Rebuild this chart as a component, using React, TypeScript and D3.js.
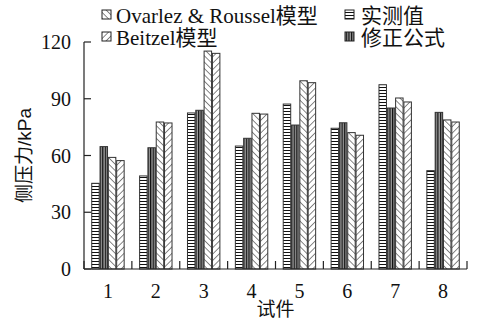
import * as d3 from "d3";

const categories = ["1", "2", "3", "4", "5", "6", "7", "8"];
const measured = [45.3, 49.2, 82.5, 65.0, 87.2, 74.4, 97.4, 52.0];
const corrected = [64.7, 64.1, 83.9, 69.1, 76.1, 77.3, 85.1, 82.8];
const ovarlez = [59.0, 77.7, 115.2, 82.3, 99.5, 72.1, 90.4, 78.8];
const beitzel = [57.3, 77.2, 114.0, 81.9, 98.5, 70.7, 88.3, 77.7];
const yTicks = [0, 30, 60, 90, 120];

const seriesNames = ["实测值", "修正公式", "Ovarlez & Roussel模型", "Beitzel模型"];
const seriesPatterns = ["p-hor", "p-ver", "p-back", "p-fwd"];
const seriesValues = [measured, corrected, ovarlez, beitzel];

const W = 477;
const H = 324;
const margin = { left: 84, right: 10, top: 42, bottom: 55 };
const FONT = "'Liberation Serif', 'Times New Roman', 'Noto Sans CJK SC', serif";
const SANS = "'Liberation Sans', Arial, 'Noto Sans CJK SC', sans-serif";

export default function App() {
  const x = d3
    .scaleBand()
    .domain(categories)
    .range([margin.left, W - margin.right])
    .paddingInner(0)
    .paddingOuter(0);
  const x1 = d3
    .scaleBand()
    .domain(seriesNames)
    .range([0, x.bandwidth()])
    .paddingInner(0.1)
    .paddingOuter(0.93);
  const y = d3
    .scaleLinear()
    .domain([0, 120])
    .range([H - margin.bottom, margin.top]);

  const y0 = y(0);
  const boundaries = categories.map((c) => x(c)!).concat([W - margin.right]);

  // legend: [series index, swatch x, text x, row baseline]
  const legend = [
    { i: 2, sx: 102, tx: 116, by: 23 },
    { i: 3, sx: 102, tx: 116, by: 45 },
    { i: 0, sx: 345, tx: 361, by: 23 },
    { i: 1, sx: 345, tx: 361, by: 45 },
  ];

  return (
    <div style={{ position: "absolute", left: 0, top: 0 }}>
      <svg width={W} height={H} style={{ display: "block", background: "#fff" }}>
        <defs>
          <pattern id="p-hor" patternUnits="userSpaceOnUse" width="4" height="3">
            <rect width="4" height="3" fill="#fff" />
            <line x1="0" y1="0.5" x2="4" y2="0.5" stroke="#111" strokeWidth="1" />
          </pattern>
          <pattern id="p-ver" patternUnits="userSpaceOnUse" width="2.6" height="4">
            <rect width="2.6" height="4" fill="#9a9a9a" />
            <line x1="0.6" y1="0" x2="0.6" y2="4" stroke="#111" strokeWidth="1.2" />
          </pattern>
          <pattern id="p-back" patternUnits="userSpaceOnUse" width="4.5" height="4.5" patternTransform="rotate(-45)">
            <rect width="4.5" height="4.5" fill="#fff" />
            <line x1="0" y1="0" x2="0" y2="4.5" stroke="#111" strokeWidth="1" />
          </pattern>
          <pattern id="p-fwd" patternUnits="userSpaceOnUse" width="4.5" height="4.5" patternTransform="rotate(45)">
            <rect width="4.5" height="4.5" fill="#fff" />
            <line x1="0" y1="0" x2="0" y2="4.5" stroke="#111" strokeWidth="1" />
          </pattern>
        </defs>

        {/* bars */}
        {categories.map((c, ci) => (
          <g key={c} transform={`translate(${x(c)},0)`}>
            {seriesNames.map((s, si) => {
              const v = seriesValues[si][ci];
              return (
                <rect
                  key={s}
                  x={x1(s)}
                  y={y(v)}
                  width={x1.bandwidth()}
                  height={y0 - y(v)}
                  fill={`url(#${seriesPatterns[si]})`}
                  stroke="#333"
                  strokeWidth={1}
                />
              );
            })}
          </g>
        ))}

        {/* y axis */}
        <line x1={margin.left} x2={margin.left} y1={y(120)} y2={y0} stroke="#222" strokeWidth={1.2} />
        {yTicks.map((t) => (
          <g key={t}>
            <line x1={margin.left} x2={margin.left + 7} y1={y(t)} y2={y(t)} stroke="#222" strokeWidth={1.2} />
            <text
              x={margin.left - 13}
              y={y(t)}
              dy="0.35em"
              textAnchor="end"
              fontFamily={FONT}
              fontSize={20}
              fill="#111"
            >
              {t}
            </text>
          </g>
        ))}

        {/* x axis */}
        <line x1={margin.left} x2={W - margin.right} y1={y0} y2={y0} stroke="#222" strokeWidth={1.2} />
        {boundaries.map((bx, i) => (
          <line key={i} x1={bx} x2={bx} y1={y0} y2={y0 - 8} stroke="#222" strokeWidth={1.2} />
        ))}
        {categories.map((c) => (
          <text
            key={c}
            x={x(c)! + x.bandwidth() / 2}
            y={298}
            textAnchor="middle"
            fontFamily={FONT}
            fontSize={20}
            fill="#111"
          >
            {c}
          </text>
        ))}
        <text
          x={(margin.left + W - margin.right) / 2}
          y={316}
          textAnchor="middle"
          fontFamily={FONT}
          fontSize={19}
          fill="#111"
        >
          试件
        </text>
        <text
          transform={`translate(31,${(y(120) + y0) / 2}) rotate(-90)`}
          textAnchor="middle"
          fontFamily={SANS}
          fontSize={19}
          fill="#111"
        >
          侧压力/kPa
        </text>

        {/* legend */}
        {legend.map((l) => (
          <g key={l.i}>
            <rect
              x={l.sx}
              y={l.by - 13}
              width={9}
              height={9}
              fill={`url(#${seriesPatterns[l.i]})`}
              stroke="#222"
              strokeWidth={1}
            />
            <text x={l.tx} y={l.by} fontFamily={FONT} fontSize={21} fill="#111">
              {seriesNames[l.i]}
            </text>
          </g>
        ))}
      </svg>
    </div>
  );
}
